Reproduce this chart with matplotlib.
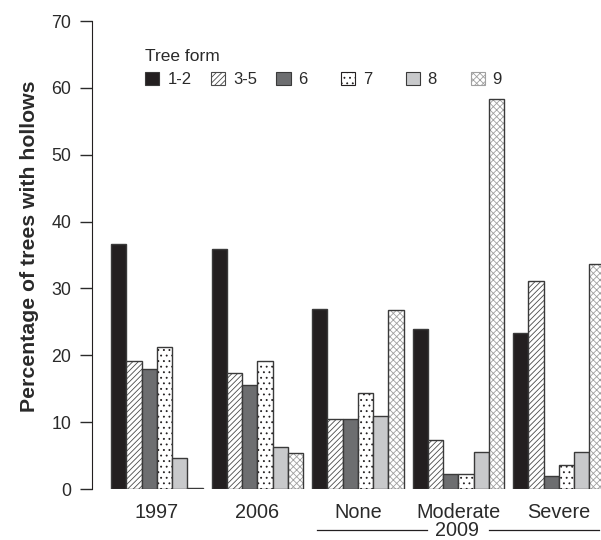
import numpy as np
import matplotlib.pyplot as plt
import matplotlib.transforms as mtransforms

plt.rcParams['font.family'] = ['Liberation Sans', 'DejaVu Sans']
plt.rcParams['hatch.linewidth'] = 0.6

groups = ['1997', '2006', 'None', 'Moderate', 'Severe']
forms = ['1-2', '3-5', '6', '7', '8', '9']

v12 = [36.7, 35.9, 27.0, 23.9, 23.4]
v35 = [19.1, 17.3, 10.5, 7.4, 31.1]
v6 = [18.0, 15.5, 10.4, 2.3, 2.0]
v7 = [21.3, 19.2, 14.4, 2.3, 3.6]
v8 = [4.7, 6.3, 10.9, 5.6, 5.5]
v9 = [0.2, 5.4, 26.8, 58.3, 33.7]
series = [v12, v35, v6, v7, v8, v9]

faces = ['#231f20', 'white', '#6d6e70', 'white', '#c8c9cb', 'white']
hatches = [None, '//////', None, '...', None, 'xxxxx']
hcols = ['#231f20', '#4a4a4a', '#6d6e70', '#231f20', '#c8c9cb', '#a0a0a0']
edge = '#3a3a3a'
txt = '#2a2a2a'

fig = plt.figure(figsize=(6.01, 5.4), dpi=100)
ax = fig.add_axes([0.153, 0.0944, 0.847, 0.8667])

x = np.arange(len(groups))
w = 0.152
handles = []
for i, vals in enumerate(series):
    xs = x + (i - 2.5) * w
    if hatches[i]:
        ax.bar(xs, vals, w, color=faces[i], edgecolor=hcols[i], hatch=hatches[i], linewidth=0)
        ax.bar(xs, vals, w, fill=False, edgecolor=edge, linewidth=1.0)
    else:
        ax.bar(xs, vals, w, color=faces[i], edgecolor=edge, linewidth=1.0)
    h = plt.Rectangle((0, 0), 1, 1, facecolor=faces[i], edgecolor=edge if not hatches[i] else hcols[i],
                      hatch=hatches[i], linewidth=0.8)
    handles.append(h)

ax.set_xlim(-0.646, 4.419)
ax.set_ylim(0, 70)
ax.set_yticks(np.arange(0, 71, 10))
ax.set_xticks(x)
ax.set_xticklabels(groups)
ax.tick_params(axis='x', length=0, pad=10, labelsize=14.3, colors=txt)
ax.tick_params(axis='y', length=9, width=1, pad=6, labelsize=12.8, colors=txt)
for s in ['top', 'right', 'bottom']:
    ax.spines[s].set_visible(False)
ax.spines['left'].set_color('#231f20')
ax.text(-0.122, 0.519, 'Percentage of trees with hollows', transform=ax.transAxes,
        rotation=90, ha='center', va='center', fontsize=15.3, fontweight='bold', color=txt)

# pad the one-character labels so the legend columns are evenly spaced
labels = [f if len(f) > 1 else f + '   ' for f in forms]
leg = ax.legend(handles, labels, ncol=6, title='Tree form', loc='upper left',
                bbox_to_anchor=(0.104, 0.941), frameon=False, fontsize=12,
                title_fontsize=12.5, handlelength=0.85, handleheight=0.8,
                handletextpad=0.5, columnspacing=1.15, borderaxespad=0, borderpad=0,
                labelspacing=0.5)
leg._legend_box.align = 'left'
for t in leg.get_texts():
    t.set_color(txt)
leg.get_title().set_color(txt)

tr = mtransforms.blended_transform_factory(ax.transData, ax.transAxes)
yl = -0.0876
ax.plot([1.59, 2.69], [yl, yl], transform=tr, color='#231f20', lw=0.9, clip_on=False)
ax.plot([3.30, 4.40], [yl, yl], transform=tr, color='#231f20', lw=0.9, clip_on=False)
ax.text(2.985, yl, '2009', transform=tr, ha='center', va='center', fontsize=14.3, color=txt)

fig.savefig('out.png', dpi=100)
